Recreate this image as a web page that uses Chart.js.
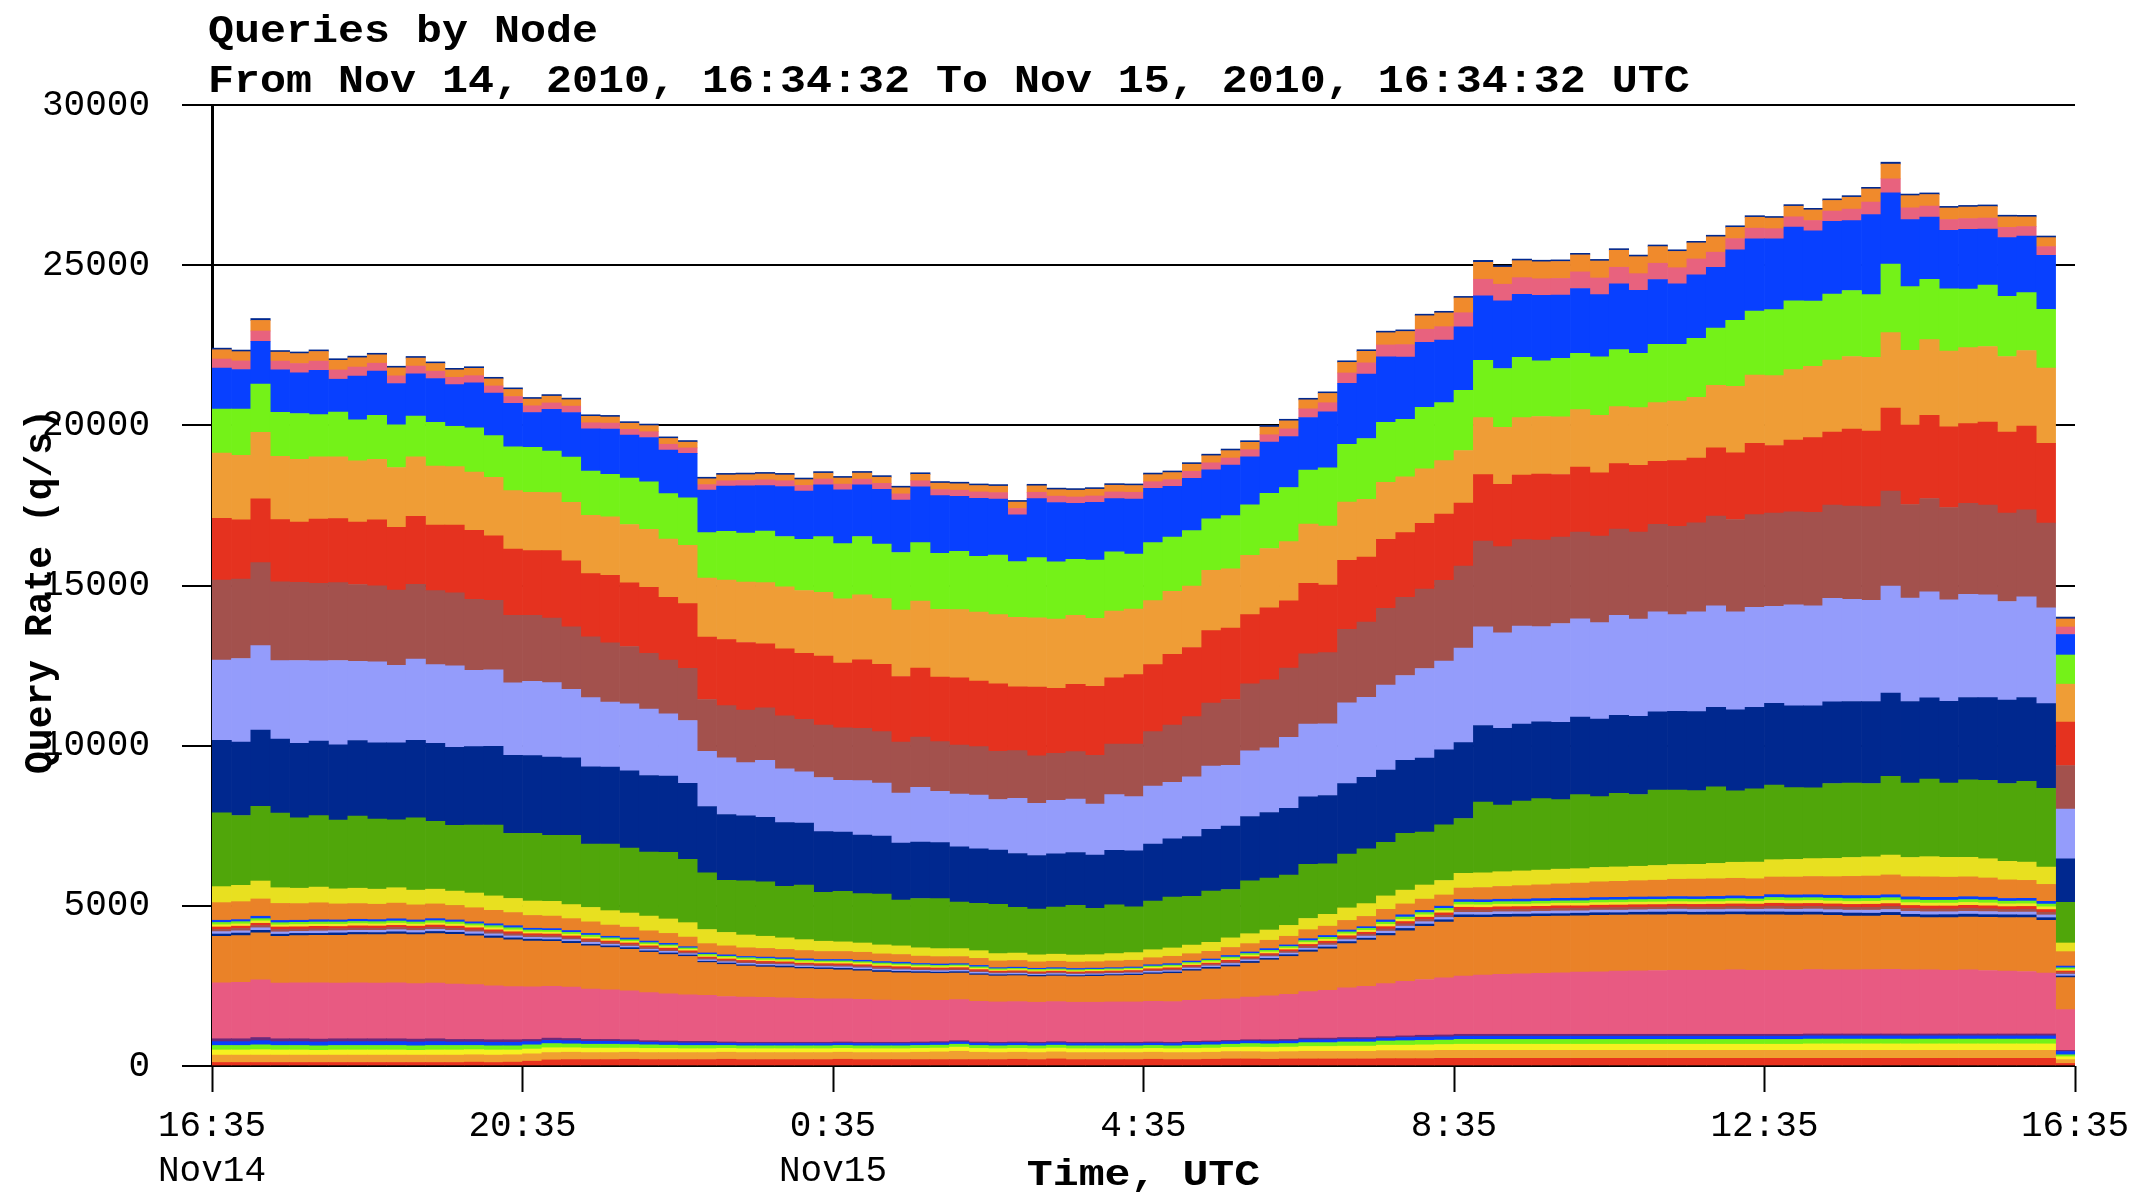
<!DOCTYPE html>
<html>
<head>
<meta charset="utf-8">
<title>Queries by Node</title>
<script src="https://cdn.jsdelivr.net/npm/chart.js@4.4.1/dist/chart.umd.min.js"></script>
<style>
  html, body { margin: 0; padding: 0; background: #fff; }
  canvas { display: block; }
</style>
</head>
<body>
<canvas id="chart" width="2143" height="1193"></canvas>
<script>
// titles and axis text
const titleText = 'Queries by Node';
const subtitleText = 'From Nov 14, 2010, 16:34:32 To Nov 15, 2010, 16:34:32 UTC';
const xTitle = 'Time, UTC';
const yTitle = 'Query Rate (q/s)';

// x ticks every 4 hours, minutes from 16:35
const tickTimes = ['16:35', '20:35', '0:35', '4:35', '8:35', '12:35', '16:35'];
const tickDates = ['Nov14', '', 'Nov15', '', '', '', ''];

// 15 minute slots over 24 hours (last slot is the partial one)
const slotMinutes = 15;
const slotCount = 96;

// ---- series, bottom of the stack first (q/s) ----
const botRed = [
  110,110,110,110, 110,110,110,110, 110,110,110,110, 110,120,110,120,
  150,190,200,200, 200,210,200,200, 200,200,210,200, 200,200,200,200,
  210,200,200,200, 200,200,200,200, 200,210,200,220, 200,200,200,200,
  210,200,200,210, 220,220,210,220, 220,220,220,220, 230,230,230,240,
  240,240,240,240, 240,240,240,240, 240,240,240,240, 240,240,240,240,
  240,240,240,240, 240,240,240,240, 240,240,240,240, 240,240,240,80
];
const botOrange = [
  230,230,230,230, 230,230,230,230, 230,230,230,230, 230,230,230,230,
  230,230,230,220, 220,220,220,220, 220,220,220,220, 220,220,220,220,
  220,220,220,220, 230,240,260,230, 220,220,220,220, 220,220,220,220,
  220,220,220,220, 230,230,230,230, 240,240,240,240, 250,250,250,250,
  250,250,250,250, 250,250,250,250, 250,250,250,250, 250,250,250,250,
  250,250,250,250, 250,250,250,250, 250,250,250,250, 250,250,250,120
];
const botYellow = [
  160,160,170,160, 160,150,160,160, 160,160,150,160, 160,160,160,150,
  150,150,140,140, 140,130,130,130, 120,120,120,120, 120,120,120,120,
  120,120,120,120, 120,120,130,120, 120,120,120,120, 120,120,120,120,
  120,120,130,130, 130,140,140,140, 150,150,160,160, 170,170,180,180,
  190,190,190,190, 190,190,190,190, 190,190,190,190, 190,190,190,190,
  190,190,200,200, 200,200,200,200, 200,200,200,200, 200,200,200,90
];
const botLime = [
  140,140,150,140, 140,140,140,140, 140,140,140,140, 140,130,130,130,
  130,130,120,120, 120,110,110,100, 100,100,90,90, 90,90,90,90,
  90,90,90,90, 90,90,90,90, 90,90,90,90, 90,90,90,90,
  90,90,100,100, 100,110,110,110, 120,120,130,130, 130,140,140,140,
  150,150,150,150, 150,150,150,150, 150,150,150,150, 150,150,150,150,
  150,150,150,150, 150,150,150,150, 150,150,150,150, 150,150,150,60
];
const botBlue = [
  120,120,130,120, 120,120,120,120, 120,120,120,120, 110,110,110,110,
  100,100,100,90, 90,90,80,80, 80,80,70,70, 70,70,70,70,
  70,70,70,70, 70,70,70,70, 70,70,70,70, 70,70,70,70,
  70,70,80,80, 80,80,80,80, 90,90,90,90, 90,100,100,100,
  100,100,100,100, 100,100,100,100, 100,100,100,100, 100,100,100,100,
  100,100,100,100, 100,100,100,100, 100,100,100,100, 100,100,100,100
];
const botPurple = [
  90,90,100,90, 90,90,90,90, 90,90,90,90, 80,80,80,80,
  70,70,70,60, 60,60,50,50, 50,50,40,40, 40,40,40,40,
  40,40,40,40, 40,40,40,40, 40,40,40,40, 40,40,40,40,
  40,40,40,40, 40,40,50,50, 50,50,50,50, 50,50,60,60,
  60,60,60,60, 60,60,60,60, 60,60,60,60, 60,60,60,60,
  60,60,60,60, 60,60,60,60, 60,60,60,60, 60,60,60,40
];
const pink = [
  1750,1760,1800,1740, 1750,1760,1740,1750, 1740,1750,1730,1740, 1730,1710,1680,1660,
  1640,1620,1600,1570, 1550,1530,1500,1470, 1450,1440,1420,1410, 1400,1390,1370,1360,
  1350,1340,1320,1310, 1300,1290,1280,1270, 1260,1260,1250,1250, 1250,1250,1260,1260,
  1270,1270,1280,1290, 1300,1330,1370,1410, 1450,1490,1550,1600, 1650,1700,1740,1780,
  1820,1850,1870,1890, 1900,1920,1940,1950, 1970,1980,1990,2000, 2000,2000,2010,2000,
  2000,2000,2010,2000, 2000,2010,2020,2000, 2000,1990,2000,1980, 1960,1950,1900,1270
];
const orangeLow = [
  1450,1460,1470,1460, 1470,1480,1490,1500, 1510,1520,1530,1540, 1550,1520,1490,1460,
  1430,1400,1370,1350, 1320,1290,1260,1230, 1200,1020,1000,970, 950,940,930,920,
  900,890,870,860, 850,840,830,820, 810,810,800,800, 800,810,820,830,
  850,880,920,960, 1000,1060,1120,1180, 1240,1300,1380,1440, 1500,1580,1660,1740,
  1830,1800,1790,1780, 1780,1770,1760,1760, 1750,1750,1740,1740, 1730,1730,1730,1730,
  1730,1720,1710,1700, 1680,1670,1680,1650, 1630,1640,1650,1660, 1670,1680,1650,1000
];
// thin nodes in the middle band
const thinNavy = [
  70,80,75,65, 70,60,75,70, 65,70,60,70, 65,60,70,60, 60,55,60,50, 50,55,45,50,
  45,40,45,40, 45,50,40,45, 50,45,50,45, 45,40,45,40, 40,35,40,35, 35,40,35,40,
  40,45,45,50, 50,55,50,55, 60,55,65,60, 70,75,70,75, 80,75,85,80, 80,75,80,85,
  75,80,85,80, 80,85,80,90, 90,95,85,90, 95,90,95,85, 90,95,90,85, 90,85,80,50
];
const thinLavender = [
  75,70,80,70, 65,75,70,65, 70,65,70,65, 60,70,65,60, 55,60,55,60, 50,45,50,50,
  40,45,40,45, 40,45,45,40, 45,50,45,50, 40,45,40,45, 35,40,35,40, 40,35,35,35,
  45,40,45,45, 50,50,55,50, 55,60,60,65, 70,70,75,70, 75,80,80,75, 80,85,75,80,
  80,75,80,85, 85,80,85,80, 90,85,95,90, 90,95,90,95, 95,90,90,95, 85,90,85,55
];
const thinBrown = [
  70,75,70,80, 70,70,65,70, 65,70,70,65, 65,60,65,65, 55,60,55,55, 50,50,55,45,
  45,40,45,45, 45,40,45,45, 45,50,50,45, 45,40,45,40, 35,40,35,40, 35,35,40,35,
  40,45,40,45, 50,45,50,55, 60,60,55,60, 70,75,70,70, 80,80,75,80, 75,80,80,75,
  80,80,75,80, 80,80,85,80, 90,90,85,95, 90,90,95,90, 90,90,95,90, 85,90,85,50
];
const thinRed = [
  75,70,70,75, 70,75,65,70, 70,65,65,70, 65,65,60,65, 60,55,60,55, 50,50,50,55,
  45,45,40,45, 45,45,40,45, 50,45,45,50, 40,45,40,45, 40,35,40,35, 35,40,35,40,
  40,45,45,40, 50,50,45,50, 60,60,65,60, 70,70,70,75, 80,75,80,80, 80,80,75,80,
  80,80,80,75, 80,85,80,85, 90,90,90,85, 90,95,90,90, 90,90,90,90, 85,85,85,50
];
const thinYellow = [
  70,70,75,65, 70,65,70,70, 65,70,65,65, 65,65,65,60, 55,60,55,55, 50,50,50,50,
  45,40,45,40, 45,40,45,45, 45,50,45,45, 45,40,45,40, 35,40,35,35, 35,35,35,40,
  45,40,45,45, 50,50,50,50, 60,60,60,60, 70,70,75,70, 80,80,80,75, 80,80,80,80,
  80,80,80,80, 80,80,85,80, 90,90,90,90, 90,90,95,90, 90,90,90,90, 85,85,85,50
];
const thinLime = [
  70,70,70,70, 70,70,70,65, 70,65,65,70, 65,60,65,65, 60,55,55,60, 50,50,50,50,
  45,45,40,45, 45,45,45,40, 45,45,50,45, 45,40,40,45, 40,35,40,35, 35,35,35,35,
  40,45,40,45, 50,50,50,50, 60,60,60,60, 70,70,70,70, 80,80,80,80, 80,75,80,80,
  80,80,80,80, 80,80,80,80, 90,90,90,90, 90,90,90,90, 90,90,90,90, 85,85,85,50
];
const thinBlue = [
  70,65,75,70, 65,70,65,70, 65,70,65,65, 65,60,60,65, 55,55,60,55, 50,55,50,50,
  40,45,45,40, 45,45,45,45, 45,45,45,50, 40,45,40,45, 35,40,35,40, 40,35,35,35,
  40,45,45,40, 50,50,55,50, 60,60,60,55, 70,70,70,70, 80,80,75,80, 80,80,80,80,
  80,80,80,80, 80,85,85,80, 90,90,90,90, 95,90,90,90, 90,90,90,90, 85,85,85,55
];
const orangeMid = [
  550,560,540,530, 520,530,500,490, 480,490,470,460, 450,440,420,410,
  400,390,370,360, 350,340,320,310, 300,290,280,270, 270,260,260,250,
  250,250,240,240, 230,230,220,220, 210,210,200,200, 200,200,210,210,
  220,230,230,240, 250,260,260,270, 280,290,300,320, 330,340,350,350,
  360,380,400,420, 430,450,470,490, 500,510,520,540, 550,550,550,550,
  550,560,570,580, 600,610,620,630, 640,630,620,600, 580,560,530,450
];
const yellow = [
  500,510,560,490, 480,490,470,480, 470,480,460,460, 450,460,450,440,
  450,460,440,450, 450,440,460,450, 450,440,420,400, 380,360,340,320,
  300,290,280,270, 260,250,250,240, 230,230,220,220, 220,220,230,240,
  250,260,270,280, 300,310,320,340, 350,370,390,400, 420,430,440,450,
  460,460,460,460, 460,460,450,450, 450,450,460,460, 460,480,500,520,
  540,550,560,570, 590,600,620,600, 630,620,610,600, 580,570,540,270
];
const green = [
  2300,2180,2330,2330, 2200,2230,2150,2250, 2190,2120,2260,2120, 2050,2120,2210,2030,
  2110,2060,2160,1980, 2080,2030,2000,2080, 1980,1770,1630,1690, 1700,1610,1700,1530,
  1580,1540,1590,1430, 1540,1560,1450,1480, 1540,1430,1430,1470, 1550,1450,1520,1430,
  1520,1590,1520,1600, 1510,1650,1620,1570, 1690,1580,1680,1710, 1670,1770,1650,1740,
  1710,2210,2080,2180, 2230,2170,2310,2210, 2300,2240,2350,2320, 2300,2390,2230,2290,
  2330,2240,2210,2340, 2320,2290,2460,2320, 2420,2320,2420,2450, 2430,2520,2460,1270
];
const navy = [
  2270,2290,2380,2310, 2320,2330,2350,2360, 2380,2400,2420,2430, 2440,2450,2460,2440,
  2430,2440,2420,2410, 2400,2410,2390,2380, 2370,2070,2050,2030, 2010,1990,1940,1890,
  1850,1830,1810,1780, 1760,1750,1730,1700, 1690,1680,1670,1660, 1650,1660,1700,1750,
  1780,1820,1870,1930, 1980,2010,2050,2080, 2110,2130,2200,2230, 2260,2280,2310,2340,
  2370,2390,2400,2400, 2400,2410,2420,2420, 2430,2440,2450,2460, 2470,2480,2530,2540,
  2550,2550,2560,2550, 2550,2560,2600,2550, 2540,2550,2570,2580, 2600,2620,2640,1360
];
const lavender = [
  2500,2610,2640,2450, 2590,2500,2630,2470, 2530,2420,2530,2460, 2540,2380,2390,2260,
  2320,2330,2140,2160, 2030,2090,2070,1940, 1960,1720,1770,1660, 1780,1680,1600,1690,
  1610,1700,1650,1560, 1710,1600,1640,1680, 1580,1720,1630,1670, 1670,1590,1740,1690,
  1810,1760,1860,1970, 1900,2050,2020,2220, 2270,2240,2520,2500, 2650,2650,2800,2770,
  2950,3080,2980,3060, 2970,3090,3070,3010, 3120,3040,3120,3020, 3110,3170,3060,3120,
  3030,3160,3120,3230, 3190,3160,3340,3230, 3310,3170,3220,3210, 3080,3140,2990,1550
];
const brown = [
  2500,2480,2590,2460, 2440,2420,2430,2400, 2370,2350,2340,2310, 2280,2220,2170,2110,
  2060,2010,1950,1900, 1850,1790,1740,1680, 1630,1620,1630,1640, 1640,1650,1640,1640,
  1640,1630,1610,1590, 1570,1550,1530,1510, 1500,1490,1480,1470, 1480,1520,1580,1640,
  1700,1790,1880,1970, 2050,2090,2120,2160, 2190,2220,2300,2350, 2400,2440,2480,2520,
  2560,2680,2690,2700, 2700,2700,2710,2700, 2700,2710,2730,2760, 2780,2800,2880,2900,
  2910,2900,2920,2910, 2910,2920,2960,2920, 2910,2880,2840,2800, 2760,2720,2650,1360
];
const red = [
  1930,1850,1990,1940, 1880,2010,2000,1950, 2060,1960,2120,2050, 2120,2150,2010,2070,
  2020,2110,2060,1970, 2110,1990,2060,1960, 2020,1950,2060,2110, 2000,2090,2060,2150,
  2020,2140,2100,2050, 2150,2020,2100,2050, 2110,1990,2150,2030, 2100,2160,2070,2170,
  2090,2210,2160,2260, 2230,2160,2250,2100, 2200,2110,2150,2030, 2150,2020,2050,2070,
  1970,2070,1940,2020, 2060,1950,2030,1980, 2040,2090,1970,2050, 2020,2130,2080,2220,
  2110,2240,2330,2280, 2400,2360,2590,2480, 2600,2520,2490,2590, 2530,2610,2490,1360
];
const orange = [
  2030,2010,2080,1980, 1960,1940,1930,1910, 1890,1870,1860,1840, 1820,1820,1830,1820,
  1820,1810,1830,1820, 1820,1820,1810,1820, 1820,1840,1860,1890, 1910,1940,1960,1990,
  2010,2030,2050,2070, 2090,2110,2130,2150, 2160,2170,2160,2160, 2150,2120,2080,2040,
  2000,1960,1920,1880, 1850,1850,1850,1850, 1850,1840,1820,1800, 1780,1740,1700,1670,
  1640,1780,1780,1790, 1800,1800,1790,1790, 1780,1800,1830,1860, 1900,1950,2080,2130,
  2180,2200,2230,2250, 2270,2300,2360,2330, 2360,2360,2370,2360, 2360,2360,2350,1180
];
const lime = [
  1380,1450,1500,1370, 1430,1320,1390,1280, 1370,1330,1270,1360, 1260,1380,1300,1370,
  1400,1300,1410,1380, 1330,1450,1490,1420, 1480,1420,1520,1530, 1610,1570,1600,1740,
  1720,1820,1700,1800, 1830,1750,1820,1740, 1860,1740,1880,1790, 1750,1820,1850,1720,
  1810,1700,1730,1610, 1660,1580,1720,1690, 1690,1820,1800,1900, 1870,1800,1920,1810,
  1880,1790,1840,1880, 1740,1830,1760,1830, 1780,1690,1820,1770, 1840,1790,2060,2000,
  2060,2150,2030,2060, 2060,1960,2140,1990, 1880,1950,1830,1920, 1880,1810,1830,910
];
const blue = [
  1280,1230,1340,1330, 1270,1380,1030,1370, 1380,1290,1320,1370, 1300,1410,1330,1360,
  1090,1300,1390,1320, 1410,1340,1380,1360, 1390,1330,1410,1470, 1420,1560,1500,1620,
  1680,1610,1710,1640, 1740,1800,1720,1810, 1750,1460,1840,1850, 1750,1800,1660,1720,
  1690,1580,1630,1530, 1580,1500,1600,1590, 1640,1750,1910,2010, 2050,1940,2030,1950,
  1980,2010,2110,1970, 2040,1970,2020,1940, 2050,1970,2020,1890, 1980,1900,2200,2260,
  2210,2300,2200,2270, 2180,2500,2220,2090, 1950,1820,1860,1750, 1830,1760,1690,640
];
const topPink = [
  280,270,320,270, 290,290,290,280, 250,240,240,230, 230,220,220,210, 210,200,200,190, 190,180,180,180,
  170,170,170,170, 180,180,180,180, 180,180,190,190, 190,190,190,200, 200,200,200,200, 200,200,210,210,
  210,210,220,220, 220,220,230,240, 270,280,320,350, 370,390,410,420, 440,520,520,520, 520,520,520,520,
  520,520,510,500, 500,470,350,330, 320,320,320,320, 360,390,440,370, 340,340,340,340, 320,300,270,235
];
const topOrange = [
  290,290,330,280, 310,300,300,290, 260,250,250,240, 230,230,220,220, 210,210,200,200, 190,190,190,180,
  180,180,180,180, 180,180,180,180, 190,190,190,190, 200,200,200,200, 200,200,200,200, 210,210,210,210,
  220,220,220,220, 230,230,240,250, 280,290,330,360, 380,410,420,430, 460,530,530,530, 530,530,530,530,
  530,530,520,510, 500,480,350,340, 330,330,330,330, 370,410,460,380, 360,360,360,360, 330,300,280,250
];
const topNavy = [
  50,50,60,50, 50,50,50,50, 50,50,50,50, 50,50,50,50, 50,50,50,50, 50,50,50,50,
  50,50,50,50, 50,50,50,50, 50,50,50,50, 50,50,50,50, 50,50,50,50, 50,50,50,50,
  50,50,50,50, 50,50,50,50, 50,50,50,50, 50,50,50,50, 50,60,50,50, 50,50,50,50,
  50,50,50,50, 50,50,50,50, 50,50,50,50, 50,50,60,50, 50,50,50,50, 50,50,50,60
];

// stack order (bottom first) and colours
const layers = [
  ['node01', botRed, '#e8321e'],
  ['node02', botOrange, '#f0a030'],
  ['node03', botYellow, '#f6f020'],
  ['node04', botLime, '#74f218'],
  ['node05', botBlue, '#0840ff'],
  ['node06', botPurple, '#6c287a'],
  ['node07', pink, '#e85a82'],
  ['node08', orangeLow, '#ea8228'],
  ['node09', thinNavy, '#00288f'],
  ['node10', thinLavender, '#949cfb'],
  ['node11', thinBrown, '#a3514d'],
  ['node12', thinRed, '#e5321f'],
  ['node13', thinYellow, '#f0e828'],
  ['node14', thinLime, '#74f218'],
  ['node15', thinBlue, '#0840ff'],
  ['node16', orangeMid, '#ea8228'],
  ['node17', yellow, '#e8e020'],
  ['node18', green, '#50a60a'],
  ['node19', navy, '#00288f'],
  ['node20', lavender, '#949cfb'],
  ['node21', brown, '#a3514d'],
  ['node22', red, '#e5321f'],
  ['node23', orange, '#ef9d36'],
  ['node24', lime, '#74f218'],
  ['node25', blue, '#0840ff'],
  ['node26', topPink, '#e8627e'],
  ['node27', topOrange, '#f08a2c'],
  ['node28', topNavy, '#00288f']
];

const slotCenters = Array.from({ length: slotCount }, (_, i) => i * slotMinutes + slotMinutes / 2);

const monoFont = 'Liberation Mono';

// wide bold text, like the bitmap font of the original
function wideText(ctx, text, x, y, sx) {
  ctx.save();
  ctx.translate(x, y);
  ctx.scale(sx, 1);
  ctx.fillText(text, 0, 0);
  ctx.restore();
}

// titles are drawn at fixed spots around the plot
const textLayer = {
  id: 'textLayer',
  afterDraw(chart) {
    const { ctx, chartArea: a } = chart;
    ctx.save();
    ctx.fillStyle = '#000';
    ctx.textAlign = 'left';
    ctx.textBaseline = 'alphabetic';
    ctx.font = `bold 38px "${monoFont}"`;
    wideText(ctx, titleText, a.left - 4, 42, 1.14);
    wideText(ctx, subtitleText, a.left - 4, 92, 1.14);

    ctx.textAlign = 'center';
    ctx.font = `bold 36px "${monoFont}"`;
    wideText(ctx, xTitle, (a.left + a.right) / 2, 1185, 1.2);

    ctx.translate(41, (a.top + a.bottom) / 2 + 6);
    ctx.rotate(-Math.PI / 2);
    ctx.textBaseline = 'middle';
    ctx.font = `bold 38px "${monoFont}"`;
    ctx.fillText(yTitle, 0, 0);
    ctx.restore();
  }
};

new Chart(document.getElementById('chart'), {
  type: 'bar',
  data: {
    labels: slotCenters,
    datasets: layers.map(([label, data, color]) => ({
      label,
      data,
      backgroundColor: color,
      borderWidth: 0,
      categoryPercentage: 1,
      barPercentage: 1
    }))
  },
  options: {
    responsive: false,
    animation: false,
    layout: { padding: { top: 105, right: 68, left: 0, bottom: 0 } },
    plugins: {
      legend: { display: false },
      tooltip: { enabled: false }
    },
    scales: {
      x: {
        type: 'linear',
        stacked: true,
        min: 0,
        max: 1440,
        offset: false,
        afterFit: (s) => { s.height = 127; },
        border: { display: false },
        grid: { drawOnChartArea: false, drawTicks: true, tickLength: 26, tickWidth: 2, tickColor: '#000', offset: false },
        ticks: {
          stepSize: 240,
          autoSkip: false,
          maxRotation: 0,
          padding: 12,
          color: '#000',
          font: { family: monoFont, size: 36, lineHeight: 1.25 },
          callback: (v) => {
            const i = Math.round(v / 240);
            return tickDates[i] ? [tickTimes[i], tickDates[i]] : tickTimes[i];
          }
        }
      },
      y: {
        stacked: true,
        min: 0,
        max: 30000,
        afterFit: (s) => { s.width = 212; },
        border: { display: true, color: '#000', width: 3 },
        grid: { color: '#000', lineWidth: 2, tickLength: 30, tickWidth: 2, tickColor: '#000' },
        ticks: {
          stepSize: 5000,
          padding: 32,
          color: '#000',
          font: { family: monoFont, size: 36 },
          callback: (v) => String(v)
        }
      }
    }
  },
  plugins: [textLayer]
});
</script>
</body>
</html>
